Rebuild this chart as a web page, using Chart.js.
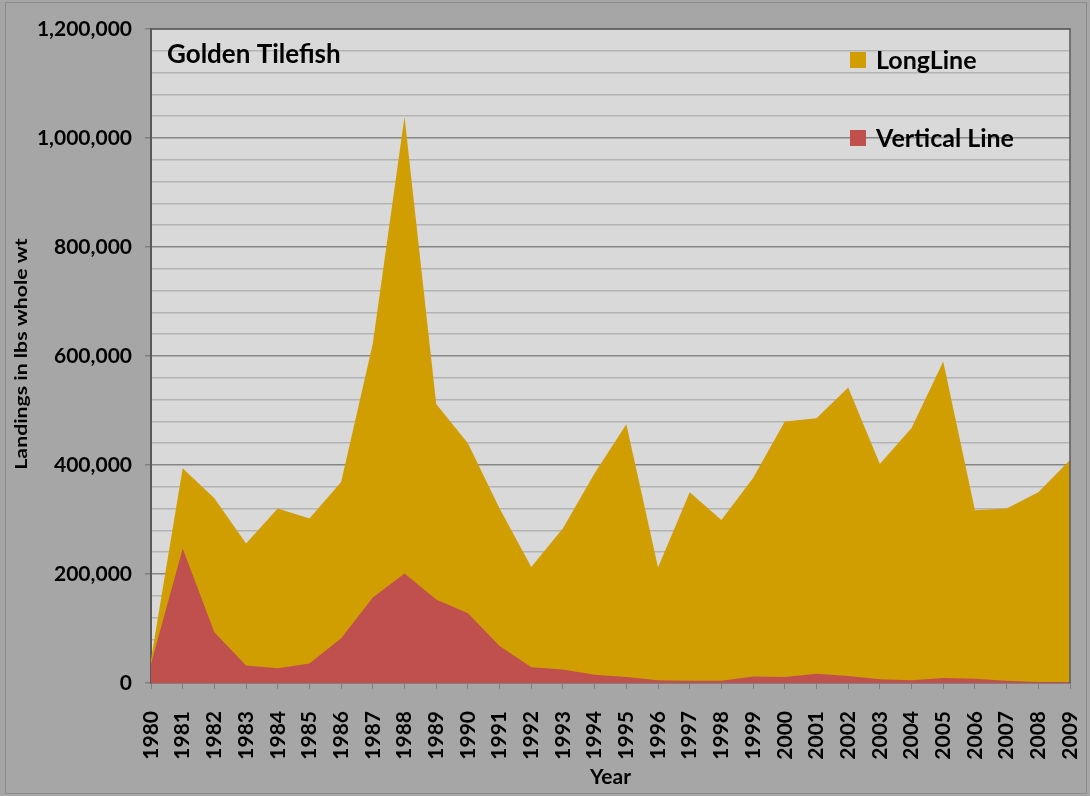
<!DOCTYPE html>
<html>
<head>
<meta charset="utf-8">
<script src="https://cdn.jsdelivr.net/npm/chart.js@4.4.1/dist/chart.umd.min.js"></script>
<style>
  html, body { margin: 0; padding: 0; background: #a6a6a6; }
  #wrap { width: 1090px; height: 796px; position: relative; }
</style>
</head>
<body>
<div id="wrap"><canvas id="chart"></canvas></div>
<script>
const years = ["1980","1981","1982","1983","1984","1985","1986","1987","1988","1989",
               "1990","1991","1992","1993","1994","1995","1996","1997","1998","1999",
               "2000","2001","2002","2003","2004","2005","2006","2007","2008","2009"];
const verticalLine = [35000, 247000, 93000, 32000, 27000, 36000, 82000, 157000, 201000, 153000,
                      128000, 68000, 29000, 25000, 15000, 11000, 5000, 4000, 4000, 12000,
                      11000, 17000, 13000, 7000, 5000, 9000, 8000, 4000, 2000, 2000];
const longLine = [8000, 147000, 246000, 224000, 293000, 266000, 287000, 466000, 838000, 359000,
                  312000, 252000, 184000, 259000, 370000, 464000, 207000, 346000, 295000, 364000,
                  469000, 469000, 529000, 395000, 463000, 581000, 309000, 316000, 348000, 407000];
const yMax = 1200000;
const yMajor = 200000;
const yMinor = 40000;

const C = { gold: "#d09e00", red: "#c0504d", plot: "#d9d9d9", major: "#868686", minor: "#b3b3b3", frame: "#595959" };
const FONT = "Lato, 'Open Sans', sans-serif";

// plot background, frame, axis title, chart title and legend
const plotDecor = {
    id: "plotDecor",
    beforeDraw(chart) {
        const { ctx, chartArea: a, width, height } = chart;
        ctx.save();
        ctx.strokeStyle = "#8c8c8c";
        ctx.lineWidth = 1;
        ctx.strokeRect(5.5, 2.5, width - 9, height - 5);
        ctx.fillStyle = C.plot;
        ctx.fillRect(a.left, a.top, a.right - a.left, a.bottom - a.top);
        ctx.restore();
    },
    afterDraw(chart) {
        const { ctx, chartArea: a } = chart;
        ctx.save();
        ctx.strokeStyle = C.frame;
        ctx.lineWidth = 1.5;
        ctx.beginPath();
        ctx.moveTo(a.left, a.top);
        ctx.lineTo(a.right, a.top);
        ctx.lineTo(a.right, a.bottom);
        ctx.stroke();

        ctx.fillStyle = "#000";
        ctx.textBaseline = "middle";
        ctx.textAlign = "center";
        ctx.font = "bold 17px " + FONT;
        ctx.save();
        ctx.translate(22, 354);
        ctx.rotate(-Math.PI / 2);
        ctx.scale(1.25, 1);
        ctx.fillText("Landings in lbs whole wt", 0, 0);
        ctx.restore();

        ctx.textAlign = "left";
        ctx.font = "bold 26px " + FONT;
        ctx.fillText("Golden Tilefish", a.left + 16, a.top + 26);

        const items = [
            { label: "LongLine", color: C.gold, y: a.top + 31 },
            { label: "Vertical Line", color: C.red, y: a.top + 109 }
        ];
        const lx = a.right - 220;
        ctx.font = "bold 25px " + FONT;
        items.forEach(it => {
            ctx.fillStyle = it.color;
            ctx.fillRect(lx, it.y - 8, 16, 16);
            ctx.fillStyle = "#000";
            ctx.fillText(it.label, lx + 26, it.y + 1);
        });
        ctx.restore();
    }
};

const ctx = document.getElementById("chart").getContext("2d");
new Chart(ctx, {
    type: "line",
    data: {
        labels: years,
        datasets: [
            { label: "Vertical Line", data: verticalLine, backgroundColor: C.red, borderColor: C.red, borderWidth: 0, fill: "origin", pointRadius: 0, tension: 0 },
            { label: "LongLine", data: longLine, backgroundColor: C.gold, borderColor: C.gold, borderWidth: 0, fill: "origin", pointRadius: 0, tension: 0 }
        ]
    },
    options: {
        responsive: true,
        maintainAspectRatio: false,
        animation: false,
        layout: { padding: { top: 29, right: 20, left: 0, bottom: 0 } },
        plugins: { legend: { display: false }, tooltip: { enabled: false } },
        scales: {
            x: {
                offset: false,
                grid: { drawOnChartArea: false, drawTicks: true, tickLength: 6, tickColor: "#808080" },
                border: { color: "#808080", width: 2 },
                ticks: { color: "#000", font: { family: FONT, size: 21, weight: "bold" }, minRotation: 90, maxRotation: 90, autoSkip: false, padding: 22 },
                title: { display: true, text: "Year", color: "#000", font: { family: FONT, size: 21, weight: "bold" }, padding: { top: 0, bottom: 6 } },
                afterFit(scale) { scale.height = 113; scale.paddingLeft = 0; scale.paddingRight = 0; }
            },
            y: {
                stacked: true,
                min: 0,
                max: yMax,
                grid: {
                    color: c => (c.tick && c.tick.value % yMajor === 0) ? C.major : C.minor,
                    lineWidth: 1.5,
                    tickLength: 6,
                    tickColor: c => (c.tick && c.tick.value % yMajor === 0) ? "#808080" : "rgba(0,0,0,0)"
                },
                border: { color: C.frame, width: 2 },
                ticks: {
                    stepSize: yMinor,
                    autoSkip: false,
                    padding: 13,
                    color: "#000",
                    font: { family: FONT, size: 21, weight: "bold" },
                    callback: v => v % yMajor === 0 ? v.toLocaleString("en-US") : ""
                },
                afterFit(scale) { scale.width = 151; scale.paddingTop = 0; scale.paddingBottom = 0; }
            }
        }
    },
    plugins: [plotDecor]
});
</script>
</body>
</html>
